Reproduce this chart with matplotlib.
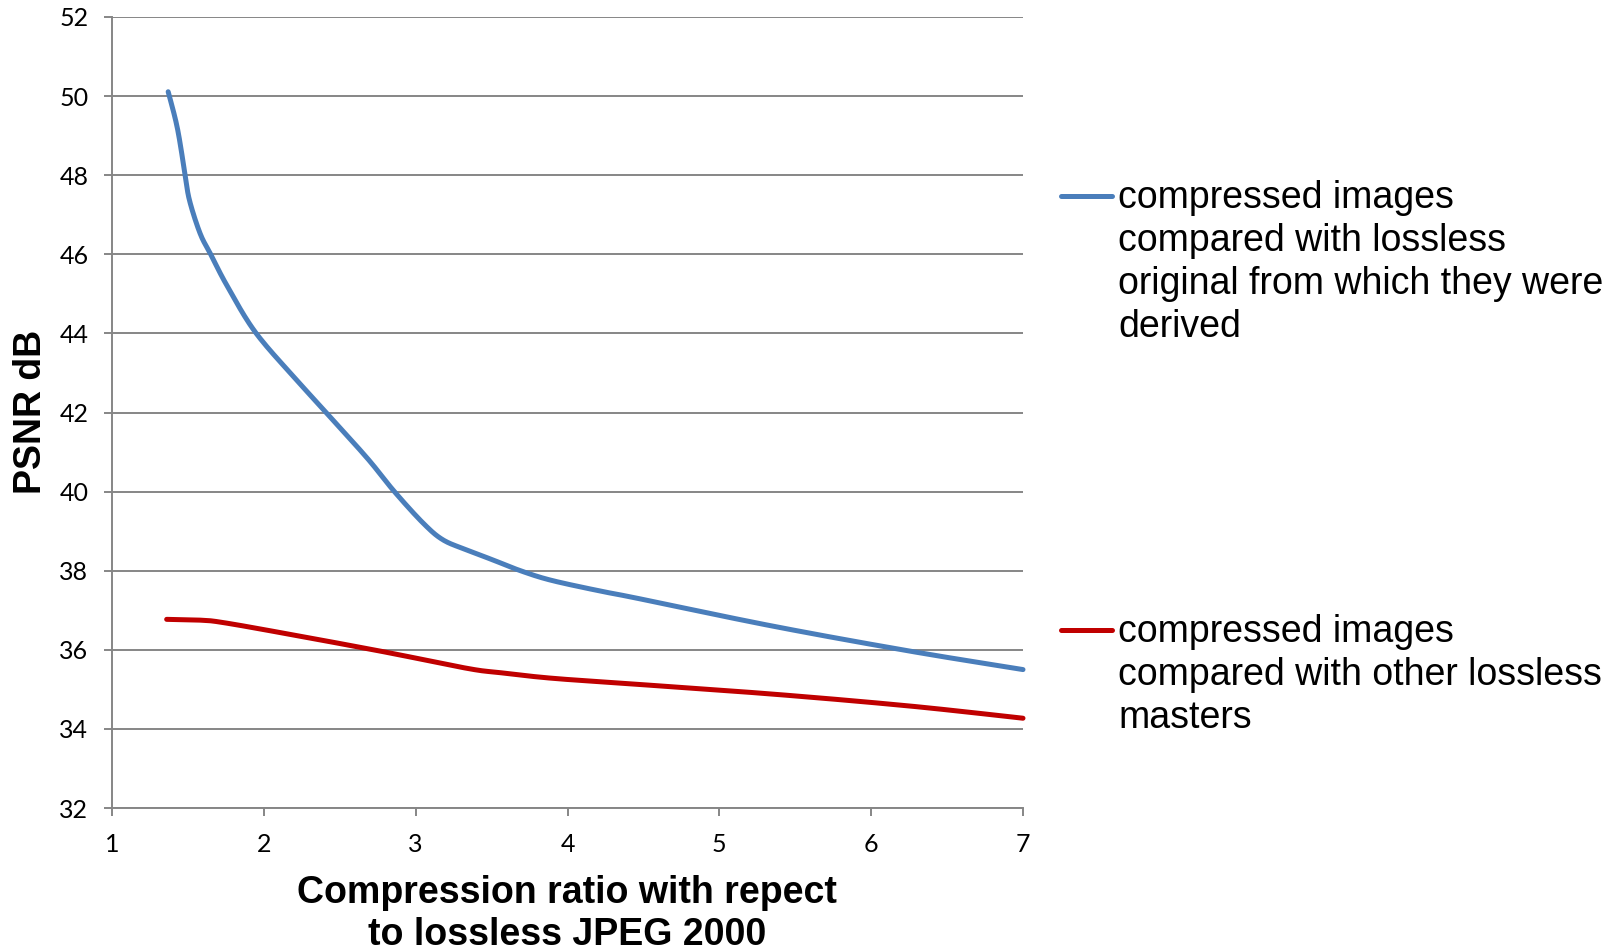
import numpy as np
import matplotlib.pyplot as plt
from matplotlib.lines import Line2D

# PSNR of compressed images vs compression ratio
ratio_orig = [1.37, 1.43, 1.48, 1.51, 1.58, 1.65, 1.76, 1.95, 2.24, 2.41, 2.68, 2.86,
              3.05, 3.18, 3.34, 3.51, 3.69, 3.89, 4.21, 4.45, 5.35, 6.25, 7.0]
psnr_orig = [50.11, 49.2, 48.05, 47.37, 46.53, 46.0, 45.19, 44.0, 42.72, 42.0, 40.85, 40.0,
             39.2, 38.78, 38.52, 38.27, 38.0, 37.76, 37.49, 37.31, 36.6, 35.97, 35.5]

ratio_other = [1.36, 1.58, 1.73, 2.13, 2.79, 3.34, 3.56, 3.9, 4.45, 5.35, 6.25, 7.0]
psnr_other = [36.77, 36.75, 36.69, 36.42, 35.95, 35.53, 35.42, 35.28, 35.13, 34.88, 34.58, 34.27]

label_orig = "compressed images\ncompared with lossless\noriginal from which they were\nderived"
label_other = "compressed images\ncompared with other lossless\nmasters"

x_ticks = [1, 2, 3, 4, 5, 6, 7]
y_ticks = [32, 34, 36, 38, 40, 42, 44, 46, 48, 50, 52]

blue = "#4a7ebb"
red = "#c00000"
grey = "#868686"


def smooth(xs, ys, n=20):
    # catmull-rom through the points, like a spreadsheet "smoothed line"
    p = np.column_stack([xs, ys]).astype(float)
    p = np.vstack([p[0], p, p[-1]])
    out = []
    t = np.linspace(0, 1, n, endpoint=False)[:, None]
    for i in range(1, len(p) - 2):
        p0, p1, p2, p3 = p[i - 1], p[i], p[i + 1], p[i + 2]
        seg = 0.5 * ((2 * p1) + (-p0 + p2) * t + (2 * p0 - 5 * p1 + 4 * p2 - p3) * t ** 2
                     + (-p0 + 3 * p1 - 3 * p2 + p3) * t ** 3)
        out.append(seg)
    out.append(p[-2][None, :])
    out = np.vstack(out)
    return out[:, 0], out[:, 1]


W, H = 1612, 951
fig = plt.figure(figsize=(W / 100, H / 100), dpi=100)
ax = fig.add_axes([112 / W, 1 - 808 / H, (1023 - 112) / W, (808 - 17) / H])

for xs, ys, c in [(ratio_orig, psnr_orig, blue), (ratio_other, psnr_other, red)]:
    sx, sy = smooth(xs, ys)
    ax.plot(sx, sy, color=c, lw=3.6, solid_capstyle="round",
            solid_joinstyle="round", clip_on=False, zorder=3)

ax.set_xlim(1, 7)
ax.set_ylim(32, 52)
ax.set_xticks(x_ticks)
ax.set_yticks(y_ticks)
ax.grid(axis="y", color=grey, lw=1.4)
ax.set_axisbelow(True)

for s in ["top", "right"]:
    ax.spines[s].set_visible(False)
for s in ["left", "bottom"]:
    ax.spines[s].set_color(grey)
    ax.spines[s].set_linewidth(1.4)

ax.tick_params(axis="both", direction="out", length=6, width=1.4, color=grey,
               labelsize=18, labelcolor="black")
ax.tick_params(axis="y", pad=11)
ax.tick_params(axis="x", pad=12)
for lab in ax.get_xticklabels() + ax.get_yticklabels():
    lab.set_family("Lato")

fig.text(567 / W, 1 - 914 / H, "Compression ratio with repect\nto lossless JPEG 2000",
         family="Liberation Sans", fontweight="bold", fontsize=27,
         ha="center", va="center", linespacing=1.2)
fig.text(31 / W, 1 - 412 / H, "PSNR dB", family="Liberation Sans",
         fontweight="bold", fontsize=27, rotation=90, ha="center", va="center")

# legend drawn beside the plot
for color, text, y in [(blue, label_orig, 196), (red, label_other, 630)]:
    fig.add_artist(Line2D([1061 / W, 1112 / W], [1 - y / H, 1 - y / H],
                          transform=fig.transFigure, color=color, lw=3.6,
                          solid_capstyle="round"))
    fig.text(1118 / W, 1 - (y - 16) / H, text, family="Liberation Sans",
             fontsize=27, ha="left", va="top", linespacing=1.25)

fig.savefig("out.png", dpi=100)
